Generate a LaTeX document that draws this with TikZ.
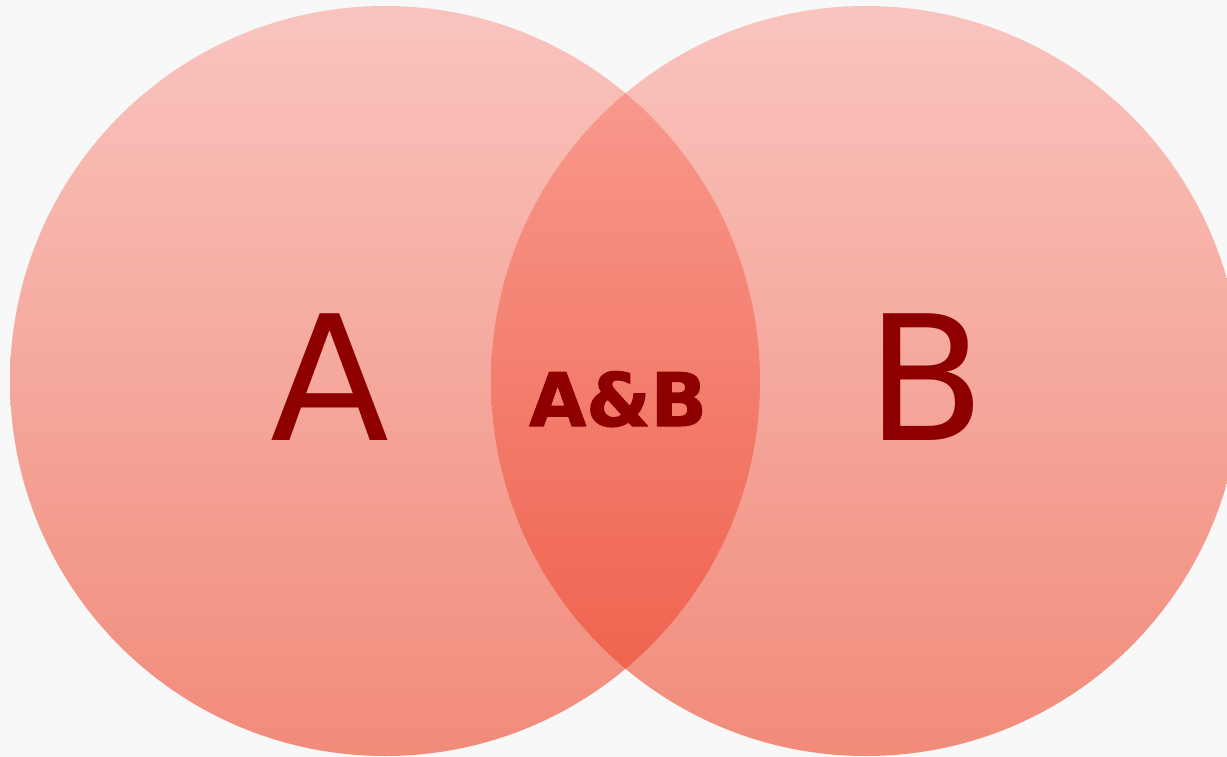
\documentclass[tikz,border=0pt]{standalone}
\usepackage{fontspec}
\setmainfont{DejaVu Sans}
\newfontfamily\vennbold[FakeBold=1.5]{DejaVu Sans Bold}
\usepackage{xcolor}
\definecolor{pagegray}{RGB}{248,248,248}
\definecolor{pinktop}{RGB}{249,196,190}
\definecolor{pinkbot}{RGB}{241,139,122}
\definecolor{midtop}{RGB}{248,152,140}
\definecolor{midbot}{RGB}{239,100,79}
\definecolor{darkred}{RGB}{142,0,0}

\begin{document}
\begin{tikzpicture}[x=0.02cm,y=-0.02cm,line join=round]
\fill[pagegray] (0,0) rectangle (1227,757);
\useasboundingbox (0,0) rectangle (1227,757);
\begin{scope}
\clip (0,0) rectangle (1227,757);
\shade[top color=pinktop,bottom color=pinkbot] (385,381) circle (375);
\shade[top color=pinktop,bottom color=pinkbot] (866,381) circle (375);
\begin{scope}
\clip (385,381) circle (375);
\clip (866,381) circle (375);
\shade[top color=midtop,bottom color=midbot] (480,93) rectangle (770,669);
\end{scope}
\end{scope}
\node[anchor=base,text=darkred,inner sep=0pt,font=\fontsize{99}{99}\selectfont] (labA) at (330,440) {A};
\node[anchor=base,text=darkred,inner sep=0pt,font=\fontsize{99}{99}\selectfont] (labB) at (926,440) {B};
\node[anchor=base,text=darkred,inner sep=0pt,font=\vennbold\fontsize{42}{42}\selectfont] (labAB) at (618,426) {A\&B};
\end{tikzpicture}
\end{document}
